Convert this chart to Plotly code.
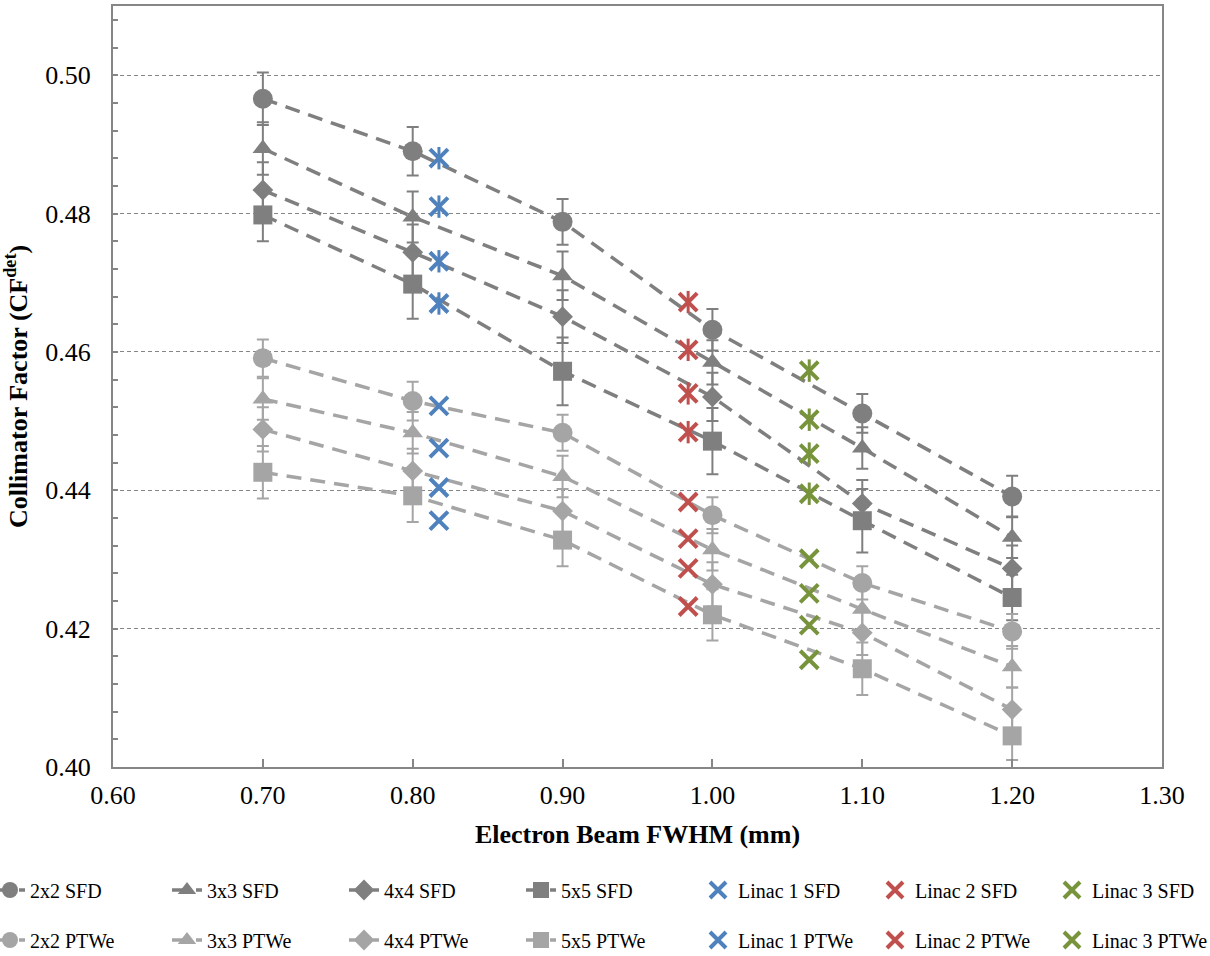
import plotly.graph_objects as go

# Electron beam FWHM (mm) for the simulated field-size series
fwhm = [0.70, 0.80, 0.90, 1.00, 1.10, 1.20]

# Collimator factor, SFD detector
sfd_2x2 = [0.4966, 0.4890, 0.4788, 0.4632, 0.4511, 0.4391]
sfd_3x3 = [0.4894, 0.4795, 0.4710, 0.4585, 0.4461, 0.4332]
sfd_4x4 = [0.4834, 0.4744, 0.4651, 0.4535, 0.4381, 0.4287]
sfd_5x5 = [0.4798, 0.4698, 0.4572, 0.4471, 0.4356, 0.4245]
sfd_2x2_err = [0.0038, 0.0035, 0.0033, 0.0030, 0.0028, 0.0030]
sfd_3x3_err = [0.0038, 0.0037, 0.0035, 0.0032, 0.0030, 0.0030]
sfd_4x4_err = [0.0040, 0.0040, 0.0038, 0.0035, 0.0034, 0.0033]
sfd_5x5_err = [0.0038, 0.0050, 0.0049, 0.0048, 0.0046, 0.0033]

# Collimator factor, PTW microDiamond (PTWe)
ptw_2x2 = [0.4591, 0.4529, 0.4483, 0.4364, 0.4266, 0.4196]
ptw_3x3 = [0.4532, 0.4483, 0.4420, 0.4314, 0.4228, 0.4145]
ptw_4x4 = [0.4488, 0.4428, 0.4370, 0.4264, 0.4194, 0.4083]
ptw_5x5 = [0.4426, 0.4392, 0.4328, 0.4220, 0.4142, 0.4045]
ptw_2x2_err = [0.0027, 0.0028, 0.0026, 0.0026, 0.0024, 0.0025]
ptw_3x3_err = [0.0030, 0.0030, 0.0030, 0.0030, 0.0030, 0.0030]
ptw_4x4_err = [0.0032, 0.0032, 0.0032, 0.0032, 0.0032, 0.0032]
ptw_5x5_err = [0.0038, 0.0038, 0.0038, 0.0037, 0.0038, 0.0035]

# Measured linac values (four field sizes each) at the fitted FWHM
linac1_fwhm = 0.8175
linac2_fwhm = 0.9838
linac3_fwhm = 1.0646
linac1_sfd = [0.4880, 0.4810, 0.4731, 0.4670]
linac2_sfd = [0.4672, 0.4603, 0.4540, 0.4484]
linac3_sfd = [0.4573, 0.4502, 0.4453, 0.4395]
linac1_ptw = [0.4522, 0.4461, 0.4404, 0.4356]
linac2_ptw = [0.4383, 0.4330, 0.4287, 0.4232]
linac3_ptw = [0.4301, 0.4251, 0.4205, 0.4155]

DARK = "#7f7f7f"
LIGHT = "#a5a5a5"
BLUE = "#4f81bd"
RED = "#c0504d"
GREEN = "#77933c"
FONT = "Liberation Serif, Times New Roman, serif"

W, H = 1210, 956
M_L, M_R, M_T, M_B = 113, 48, 6, 189
PLOT_W = W - M_L - M_R
PLOT_H = H - M_T - M_B

fig = go.Figure()

def sim_trace(name, y, err, color, symbol, size, legend):
    fig.add_trace(go.Scatter(
        x=fwhm, y=y, name=name, mode="lines+markers",
        line=dict(color=color, width=3.5, dash="15px,9px"),
        marker=dict(color=color, symbol=symbol, size=size),
        error_y=dict(type="data", array=err, color=color, thickness=2, width=6),
        legend=legend,
    ))

def linac_trace(name, xval, y, color, star, legend):
    xs = [xval] * len(y)
    fig.add_trace(go.Scatter(
        x=xs, y=y, name=name, mode="markers",
        marker=dict(symbol="x-thin-open", size=18, color=color,
                    line=dict(color=color, width=4)),
        legend=legend,
    ))
    if star:
        fig.add_trace(go.Scatter(
            x=xs, y=y, mode="markers", showlegend=False, hoverinfo="skip",
            marker=dict(symbol="line-ns-open", size=16, color=color,
                        line=dict(color=color, width=3)),
        ))

sim_trace("2x2 SFD", sfd_2x2, sfd_2x2_err, DARK, "circle", 20, "legend")
sim_trace("3x3 SFD", sfd_3x3, sfd_3x3_err, DARK, "triangle-up", 18, "legend")
sim_trace("4x4 SFD", sfd_4x4, sfd_4x4_err, DARK, "diamond", 16, "legend")
sim_trace("5x5 SFD", sfd_5x5, sfd_5x5_err, DARK, "square", 19, "legend")
sim_trace("2x2 PTWe", ptw_2x2, ptw_2x2_err, LIGHT, "circle", 20, "legend3")
sim_trace("3x3 PTWe", ptw_3x3, ptw_3x3_err, LIGHT, "triangle-up", 18, "legend3")
sim_trace("4x4 PTWe", ptw_4x4, ptw_4x4_err, LIGHT, "diamond", 16, "legend3")
sim_trace("5x5 PTWe", ptw_5x5, ptw_5x5_err, LIGHT, "square", 19, "legend3")

linac_trace("Linac 1 SFD", linac1_fwhm, linac1_sfd, BLUE, True, "legend2")
linac_trace("Linac 2 SFD", linac2_fwhm, linac2_sfd, RED, True, "legend2")
linac_trace("Linac 3 SFD", linac3_fwhm, linac3_sfd, GREEN, True, "legend2")
linac_trace("Linac 1 PTWe", linac1_fwhm, linac1_ptw, BLUE, False, "legend4")
linac_trace("Linac 2 PTWe", linac2_fwhm, linac2_ptw, RED, False, "legend4")
linac_trace("Linac 3 PTWe", linac3_fwhm, linac3_ptw, GREEN, False, "legend4")

def legend_box(x_px, y_px):
    # legend rows sit below the plot area, positioned in paper coordinates
    return dict(
        orientation="h", xref="paper", yref="paper",
        x=(x_px - M_L) / PLOT_W, y=1 - (y_px - M_T) / PLOT_H,
        xanchor="left", yanchor="middle",
        entrywidth=132, entrywidthmode="pixels",
        font=dict(family=FONT, size=20, color="black"),
        bgcolor="rgba(0,0,0,0)",
    )

axis_common = dict(
    showline=True, linecolor="#868686", linewidth=2, mirror=True,
    tickfont=dict(family=FONT, size=26, color="black"),
    zeroline=False,
)

fig.update_layout(
    width=W, height=H,
    paper_bgcolor="white", plot_bgcolor="white",
    margin=dict(l=M_L, r=M_R, t=M_T, b=M_B, autoexpand=False),
    showlegend=True,
    legend=legend_box(-10, 890),
    legend2=legend_box(698, 890),
    legend3=legend_box(-10, 940),
    legend4=legend_box(698, 940),
    xaxis=dict(
        range=[0.60, 1.30], dtick=0.10, tick0=0.60, tickformat=".2f",
        ticks="inside", ticklen=8, tickwidth=1.5, tickcolor="#868686",
        showgrid=False,
        ticklabelstandoff=4,
        title=dict(text="<b>Electron Beam FWHM (mm)</b>",
                   font=dict(family=FONT, size=26, color="black"), standoff=16),
        **axis_common,
    ),
    yaxis=dict(
        range=[0.40, 0.51], dtick=0.02, tick0=0.40, tickformat=".2f",
        ticks="inside", ticklen=5, tickwidth=1.5, tickcolor="#868686",
        showgrid=True, gridcolor="#868686", gridwidth=1, griddash="4px,3px",
        minor=dict(dtick=0.004, ticks="inside", ticklen=5, tickwidth=1.5,
                   tickcolor="#868686", showgrid=False),
        title=dict(text="<b>Collimator Factor (CF<sup>det</sup>)</b>",
                   font=dict(family=FONT, size=26, color="black"), standoff=14),
        ticklabelstandoff=15,
        **axis_common,
    ),
)

fig.write_html("out.html")
